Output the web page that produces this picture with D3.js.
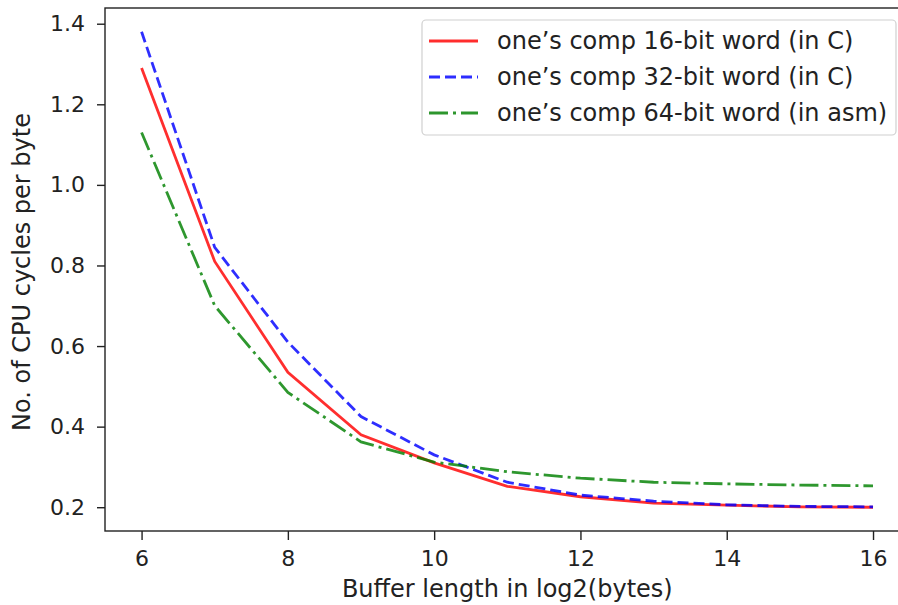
<!DOCTYPE html>
<html><head><meta charset="utf-8">
<script src="https://cdn.jsdelivr.net/npm/d3@7"></script>
<style>body{margin:0;background:#fff}svg{display:block}text{font-family:"DejaVu Sans",sans-serif;fill:#222}</style>
</head><body><svg id="c" width="898" height="605"></svg>
<script>
const xs = [6,7,8,9,10,11,12,13,14,15,16];
const s16 = [1.29,0.81,0.535,0.38,0.31,0.252,0.226,0.21,0.205,0.201,0.2];
const s32 = [1.38,0.845,0.61,0.425,0.33,0.262,0.23,0.215,0.206,0.202,0.201];
const s64 = [1.13,0.70,0.485,0.362,0.312,0.288,0.272,0.262,0.258,0.255,0.253];
const names = ["one\u2019s comp 16-bit word (in C)","one\u2019s comp 32-bit word (in C)","one\u2019s comp 64-bit word (in asm)"];
const xTicks = [6,8,10,12,14,16];
const yTicks = [0.2,0.4,0.6,0.8,1.0,1.2,1.4];

const svg = d3.select("#c");
const L=105, R=909.6, T=8, B=531;
const x = d3.scaleLinear().domain([5.5,16.5]).range([L,R]);
const y = d3.scaleLinear().domain([0.141,1.439]).range([B,T]);
const tfs = 22, lfs = 24;

const styles = [
  {c:"#ff0000", d:null, v:s16},
  {c:"#0000ff", d:"11,5", v:s32},
  {c:"#008000", d:"19,5,3,5", v:s64}
];
const line = d3.line().x((d,i)=>x(xs[i])).y(d=>y(d));
styles.forEach(s=>{
  svg.append("path").attr("d",line(s.v)).attr("fill","none").attr("stroke",s.c)
    .attr("stroke-width",2.8).attr("stroke-dasharray",s.d).attr("opacity",0.82);
});

const xa = svg.append("g").attr("transform",`translate(0,${B})`)
  .call(d3.axisBottom(x).tickValues(xTicks).tickFormat(d3.format("d")).tickSize(9).tickPadding(10));
const ya = svg.append("g").attr("transform",`translate(${L},0)`)
  .call(d3.axisLeft(y).tickValues(yTicks).tickFormat(d3.format(".1f")).tickSize(8).tickPadding(12));
[xa,ya].forEach(a=>{
  a.select(".domain").remove();
  a.selectAll("line").attr("stroke","#222").attr("stroke-width",1.4);
  a.selectAll("text").attr("font-size",tfs).attr("fill","#222").attr("font-family","DejaVu Sans");
});
svg.append("rect").attr("x",L).attr("y",T).attr("width",R-L).attr("height",B-T)
  .attr("fill","none").attr("stroke","#222").attr("stroke-width",1.4);

svg.append("text").attr("x",(L+R)/2).attr("y",597).attr("text-anchor","middle").attr("font-size",lfs)
  .text("Buffer length in log2(bytes)");
svg.append("text").attr("transform",`translate(30,272) rotate(-90)`).attr("text-anchor","middle").attr("font-size",lfs)
  .text("No. of CPU cycles per byte");

// legend
const lg = svg.append("g");
lg.append("rect").attr("x",422).attr("y",20).attr("width",474).attr("height",115).attr("rx",4)
  .attr("fill","#fff").attr("fill-opacity",0.8).attr("stroke","#d0d0d0").attr("stroke-width",1.2);
styles.forEach((s,i)=>{
  const yy = 41 + i*36;
  lg.append("line").attr("x1",429).attr("x2",478).attr("y1",yy).attr("y2",yy)
    .attr("stroke",s.c).attr("stroke-width",2.8).attr("stroke-dasharray",s.d).attr("opacity",0.82);
  lg.append("text").attr("x",497).attr("y",yy).attr("dy","0.35em").attr("font-size",lfs).text(names[i]);
});
</script></body></html>
